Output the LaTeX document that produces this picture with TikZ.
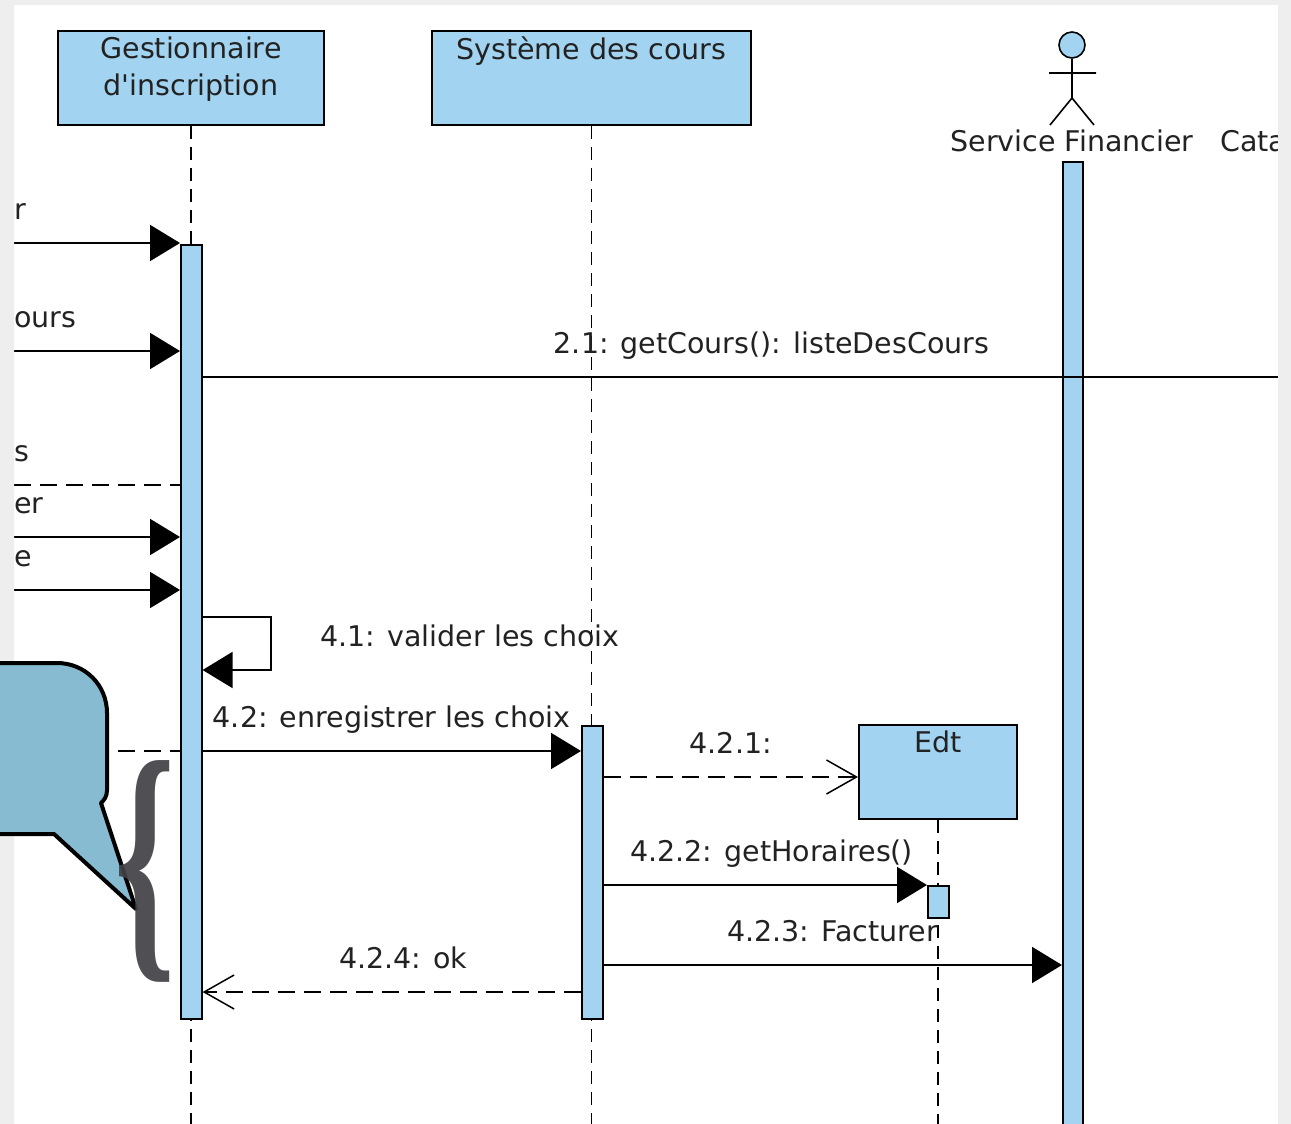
\documentclass[tikz,border=0pt]{standalone}
\usepackage{fontspec}
\setmainfont{DejaVu Sans}
\newfontfamily\bracefont{Liberation Serif}
\usetikzlibrary{arrows.meta,positioning}
\definecolor{lifeblue}{RGB}{162,212,241}
\definecolor{bubbleblue}{RGB}{134,187,209}
\definecolor{pagegrey}{RGB}{238,238,238}
\definecolor{bracegrey}{RGB}{66,66,70}
\definecolor{txtgrey}{RGB}{34,34,34}
\tikzset{lifebox/.style={draw, line width=2pt, fill=lifeblue, anchor=north west, inner sep=0pt},
  actbar/.style={draw, line width=1.6pt, fill=lifeblue, anchor=north west, inner sep=0pt, minimum width=21pt},
  lifeline/.style={line width=1.6pt, dash pattern=on 13pt off 8pt},
  lbl/.style={font=\fontsize{28.5}{37}\selectfont, text=txtgrey, inner sep=0pt},
  over/.style={lbl, anchor=base, yshift=24pt},
  msg/.style={line width=2pt, -{Triangle[length=30pt,width=36pt]}},
  retline/.style={line width=2pt, dash pattern=on 17pt off 9pt},
  retmsg/.style={retline, -{Straight Barb[length=30pt,width=34pt,line width=1.5pt]}}}

\begin{document}
\begin{tikzpicture}[x=1pt, y=-1pt]
  \useasboundingbox (0,0) rectangle (1291,1124);
  \fill[pagegrey] (0,0) rectangle (1291,1124);
  \fill[white] (14,5) rectangle (1278,1124);

  \node[lifebox, minimum width=266pt, minimum height=94pt] (boxG) at (57,30) {};
  \node[lbl, align=center, below=7pt of boxG.north] (nameG) {Gestionnaire\\d\textquotesingle inscription};
  \node[lifebox, minimum width=319pt, minimum height=94pt] (boxS) at (431,30) {};
  \node[lbl, below=7pt of boxS.north] (nameS) {Système des cours};
  \node[lifebox, minimum width=158pt, minimum height=94pt] (boxE) at (858,724) {};
  \node[lbl, below=7pt of boxE.north] (nameE) {Edt};

  % acteur
  \node[circle, draw, line width=1.6pt, fill=lifeblue, minimum size=26pt, inner sep=0pt] (head) at (1072,45) {};
  \coordinate (hip) at (1072,98);
  \draw[line width=1.6pt] (head.south) -- (hip) (1049,73) -- (1096,73) (1050,125) -- (hip) -- (1094,125);
  \node[lbl, anchor=base] (nameF) at (1072,151) {Service Financier};
  \node[lbl, anchor=base west] (nameC) at (1220,151) {Cata};

  \draw[lifeline] (boxG.south) -- (boxG.south |- 0,1124);
  \draw[lifeline] (boxS.south) -- (boxS.south |- 0,1124);
  \draw[lifeline] (boxE.south) -- (boxE.south |- 0,1124);

  \node[actbar, minimum height=774pt] (barG) at (180,244) {};
  \node[actbar, minimum height=293pt] (barS) at (581,725) {};
  \node[actbar, minimum width=20pt, minimum height=980pt] (barF) at (1062,161) {};
  \node[actbar, minimum height=32pt] (barE) at (927,885) {};

  \foreach \y/\txt in {243/r, 351/ours, 537/er, 590/e}{
    \coordinate (in\y) at (14,\y);
    \draw[msg] (in\y) -- (barG.west |- in\y);
    \node[lbl, anchor=base west] (txt\y) at ([yshift=24pt]in\y) {\txt};
  }
  \coordinate (in485) at (14,485);
  \draw[retline] (in485) -- (barG.west |- in485);
  \node[lbl, anchor=base west] (txt485) at ([yshift=24pt]in485) {s};
  \coordinate (in751) at (14,751);
  \draw[retline] (in751) -- (barG.west |- in751);

  \coordinate (edgeR) at (1278,377);
  \draw[line width=2pt] (barG.east |- edgeR) -- (edgeR) node[over, pos=0.529] (txt21) {2.1: getCours(): listeDesCours};

  \coordinate (selfTop) at (271,617);
  \coordinate (selfBot) at (271,670);
  \draw[msg] (barG.east |- selfTop) -- (selfTop) -- (selfBot) -- (barG.east |- selfBot);
  \node[lbl, anchor=base] (txt41) at (470,646) {4.1: valider les choix};

  \draw[msg] (barG.east |- 0,751) -- (barS.west |- 0,751) node[over, midway] (txt42) {4.2: enregistrer les choix};
  \draw[retmsg] (barS.east |- 0,777) -- (boxE.west |- 0,777) node[over, midway] (txt421) {4.2.1:};
  \draw[msg] (barS.east |- 0,885) -- (barE.west |- 0,885) node[over, pos=0.52] (txt422) {4.2.2: getHoraires()};
  \draw[msg] (barS.east |- 0,965) -- (barF.west |- 0,965) node[over, midway] (txt423) {4.2.3: Facturer};
  \draw[retmsg] (barS.west |- 0,992) -- (barG.east |- 0,992) node[over, pos=0.47] (txt424) {4.2.4: ok};

  \fill[pagegrey] (1278,0) rectangle (1291,1124) (0,0) rectangle (1291,5) (0,0) rectangle (14,1124);

  % bulle
  \draw[line width=4pt, fill=bubbleblue, line join=round] (-20,663) -- (57,663) .. controls (85,663) and (107,685) .. (107,713) -- (107,790) .. controls (107,797) and (104,800) .. (101,803) -- (136,909) -- (54,834) -- (-20,834) -- cycle;
  \node[text=bracegrey, opacity=0.92, inner sep=0pt, xscale=0.58, font=\bracefont\bfseries\fontsize{268}{268}\selectfont] (brace) at (145,871) {\{};
\end{tikzpicture}
\end{document}
